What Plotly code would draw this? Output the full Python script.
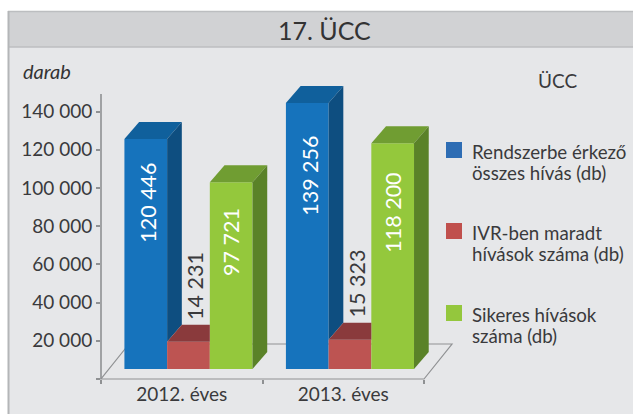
import plotly.graph_objects as go

years = ["2012. éves", "2013. éves"]
series_names = ["Rendszerbe érkező<br>összes hívás (db)", "IVR-ben maradt<br>hívások száma (db)", "Sikeres hívások<br>száma (db)"]
total_calls = [120446, 139256]
ivr_calls = [14231, 15323]
success_calls = [97721, 118200]
y_ticks = [0, 20000, 40000, 60000, 80000, 100000, 120000, 140000]
y_tick_labels = ["", "20 000", "40 000", "60 000", "80 000", "100 000", "120 000", "140 000"]

W, H = 633, 414
FONT = "Lato"
TXT = "#3a3a3c"
AX_L, AX_B = 101, 379
PX_X = 161.5           # pixels per category
PX_Y = 1.91 / 1000     # pixels per call
XMAX, YMAX = 2.2, 160000
BAR_W = 42.7 / PX_X
GROUP_L = 0.145
DX = 14.7 / PX_X
DY = 17 / PX_Y
BASE = 10 / PX_Y

def fx(p): return p / W
def fy(p): return 1 - p / H

fig = go.Figure()
values = [total_calls, ivr_calls, success_calls]
front = ["#1673bc", "#bd5452", "#94c83c"]
top = ["#10609c", "#8a3a3c", "#709d32"]
side = ["#0e4e80", "#8a3a3c", "#5a8228"]
legend_col = ["#2e6db4", "#c0504d", "#94c73d"]
legend_top = [142, 223, 305]

def poly(xs, ys, color):
    fig.add_trace(go.Scatter(x=xs + xs[:1], y=ys + ys[:1], mode="lines", fill="toself",
                             fillcolor=color, line=dict(width=0, color=color),
                             showlegend=False, hoverinfo="skip"))

for s in range(3):
    xs = [g + GROUP_L + s * BAR_W + BAR_W / 2 for g in range(2)]
    fig.add_trace(go.Bar(x=xs, y=values[s], base=[BASE, BASE], width=BAR_W,
                         marker=dict(color=front[s], line=dict(width=0)),
                         showlegend=False, hoverinfo="skip"))
    for g in range(2):
        l = g + GROUP_L + s * BAR_W
        r = l + BAR_W
        t = BASE + values[s][g]
        if s < 2 and values[s + 1][g] > values[s][g]:
            # the next, taller bar hides the right-hand part of this top face
            poly([l, l + DX, r, r], [t, t + DY, t + DY, t], top[s])
        else:
            poly([l, l + DX, r + DX, r], [t, t + DY, t + DY, t], top[s])
        if s == 0:
            nt = BASE + values[1][g]
            poly([r, r + DX, r + DX, r], [t, t + DY, nt + DY, nt], side[s])
        if s == 2:
            poly([r, r + DX, r + DX, r], [t, t + DY, BASE + DY, BASE], side[s])

shapes = [
    dict(type="rect", xref="paper", yref="paper", x0=fx(8), x1=1, y0=0, y1=fy(11),
         fillcolor="#e6e7e9", line=dict(width=0), layer="below"),
    dict(type="rect", xref="paper", yref="paper", x0=fx(8), x1=1, y0=fy(47), y1=fy(11),
         fillcolor="#d1d2d4", line=dict(width=0), layer="below"),
    dict(type="line", xref="paper", yref="paper", x0=fx(8), x1=1, y0=fy(11.5), y1=fy(11.5),
         line=dict(color="#bcbec0", width=1.5), layer="below"),
    dict(type="line", xref="paper", yref="paper", x0=fx(8), x1=1, y0=fy(47), y1=fy(47),
         line=dict(color="#bcbec0", width=1.5), layer="below"),
    dict(type="line", xref="paper", yref="paper", x0=fx(8.5), x1=fx(8.5), y0=0, y1=fy(11),
         line=dict(color="#b4b6b8", width=2), layer="below"),
    dict(type="line", xref="paper", yref="paper", x0=fx(AX_L), x1=fx(AX_L), y0=fy(AX_B), y1=fy(94),
         line=dict(color="#a0a2a4", width=2), layer="below"),
    dict(type="path", xref="paper", yref="paper", layer="below",
         path=f"M{fx(AX_L)},{fy(AX_B)} L{fx(424)},{fy(AX_B)} L{fx(452)},{fy(344)} L{fx(129)},{fy(344)} Z",
         line=dict(color="#8f9193", width=1.2)),
]

annots = [
    dict(text="17. ÜCC", x=324, y=30, size=25, color="#333", anchor="center"),
    dict(text="<i>darab</i>", x=47, y=71, size=20, color="#333", anchor="center"),
    dict(text="ÜCC", x=557, y=81, size=19, color=TXT, anchor="center"),
]

# hand-set legend: square swatch beside the first of two text lines
for s in range(3):
    y0 = legend_top[s]
    shapes.append(dict(type="rect", xref="paper", yref="paper", x0=fx(446), x1=fx(462),
                       y0=fy(y0), y1=fy(y0 + 16), fillcolor=legend_col[s], line=dict(width=0), layer="below"))
    for i, part in enumerate(series_names[s].split("<br>")):
        annots.append(dict(text=part, x=470, y=y0 + 10 + 21 * i, size=18.7, color=TXT, anchor="left"))

annotations = [dict(xref="paper", yref="paper", x=fx(a["x"]), y=fy(a["y"]), text=a["text"], showarrow=False,
                    xanchor=a["anchor"], yanchor="middle", xshift=0,
                    font=dict(family=FONT, size=a["size"], color=a["color"])) for a in annots]

for g in range(2):
    for s, col, xoff in [(0, "white", 2), (1, TXT, 7), (2, "white", 0)]:
        v = values[s][g]
        ypos = {0: v * 0.765, 1: 49000 + (g * 1000), 2: v * 0.735}[s]
        annotations.append(dict(
            x=g + GROUP_L + s * BAR_W + BAR_W / 2, y=ypos, xref="x", yref="y", xshift=xoff,
            text=f"{v:,}".replace(",", " "), textangle=-90, showarrow=False,
            font=dict(family=FONT, size=21.5, color=col)))

fig.update_layout(
    width=W, height=H, autosize=False, margin=dict(l=0, r=0, t=0, b=0),
    paper_bgcolor="white", plot_bgcolor="rgba(0,0,0,0)", barmode="overlay", showlegend=False,
    font=dict(family=FONT, color=TXT),
    shapes=shapes, annotations=annotations,
    xaxis=dict(domain=[fx(AX_L), fx(AX_L + XMAX * PX_X)], range=[0, XMAX], showgrid=False,
               zeroline=False, showline=False, tickmode="array", tickvals=[0.5, 1.5], ticktext=years,
               ticklen=0, ticklabelstandoff=2, tickfont=dict(family=FONT, size=19, color=TXT),
               minor=dict(tickmode="array", tickvals=[0, 1, 2], ticks="outside", ticklen=4,
                          tickcolor="#8f9193", tickwidth=1.5)),
    yaxis=dict(domain=[fy(AX_B), fy(AX_B - YMAX * PX_Y)], range=[0, YMAX], showgrid=False,
               zeroline=False, showline=False, tickmode="array", tickvals=y_ticks, ticktext=y_tick_labels,
               ticks="outside", ticklen=4, tickcolor="#8f9193", tickwidth=1.5,
               tickfont=dict(family=FONT, size=19, color=TXT)),
)
fig.write_html("out.html", config=dict(displayModeBar=False), post_script="document.body.style.margin='0';")
